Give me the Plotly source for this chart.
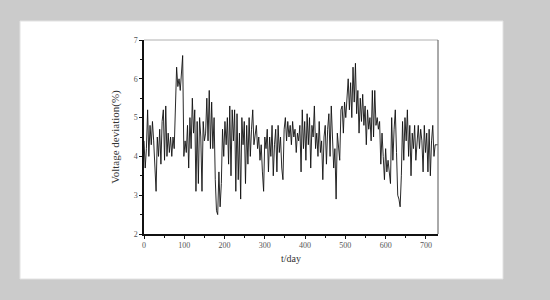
import plotly.graph_objects as go

days = list(range(0, 730, 3))
voltage = [
    4.4, 3.7, 4.2, 5.2, 4.0, 4.8, 4.3, 4.9, 4.4, 3.5,
    3.1, 4.5, 4.0, 4.7, 3.8, 4.9, 5.2, 3.9, 5.3, 4.0,
    4.6, 4.1, 4.5, 4.0, 4.5, 4.2, 5.3, 6.3, 5.8, 6.0,
    5.7, 6.1, 6.6, 4.0, 4.4, 4.1, 4.8, 3.7, 5.0, 4.2,
    5.5, 4.6, 5.2, 3.1, 4.9, 3.3, 5.0, 4.5, 3.1, 4.9,
    4.4, 4.6, 5.5, 4.4, 5.7, 4.2, 5.4, 4.2, 5.0, 3.4,
    2.6, 2.5, 3.6, 2.7, 3.3, 4.7, 4.0, 4.9, 4.3, 5.0,
    3.8, 5.3, 3.5, 5.2, 4.4, 5.2, 3.1, 5.1, 3.4, 4.6,
    2.9, 5.0, 4.3, 4.9, 3.3, 4.8, 3.8, 5.0, 4.0, 4.7,
    5.2, 4.3, 4.6, 4.8, 4.2, 4.5, 3.9, 4.3, 3.6, 3.1,
    4.5, 4.2, 4.7, 3.6, 4.5, 4.0, 4.8, 3.5, 4.3, 4.7,
    3.6, 4.8, 4.1, 4.5, 3.7, 3.4, 4.7, 5.0, 4.4, 4.9,
    4.5, 4.8, 4.3, 4.9, 4.5, 4.7, 4.1, 4.6, 4.4, 4.8,
    3.6, 5.2, 4.2, 4.9, 3.9, 5.1, 4.3, 5.0, 3.7, 4.8,
    4.5, 5.3, 4.2, 4.6, 4.0, 4.9, 4.1, 4.4, 3.4, 4.5,
    4.8, 3.8, 4.7, 5.1, 4.0, 5.3, 4.5, 3.7, 4.2, 2.9,
    4.6, 4.3, 3.9, 5.2, 5.3, 4.6, 5.4, 5.0, 5.5, 6.0,
    5.2, 5.9, 5.0, 6.3, 5.4, 6.4, 5.1, 5.7, 4.6, 5.5,
    4.9, 5.6, 4.8, 5.3, 4.3, 5.2, 4.7, 5.0, 4.4, 5.7,
    4.5, 5.7, 4.8, 5.0, 4.7, 4.9, 3.8, 4.6, 4.0, 3.4,
    4.2, 3.6, 3.9, 3.5, 3.3, 5.0, 3.9, 4.7, 5.2, 4.1,
    3.0, 2.9, 2.7, 3.5, 4.9, 3.9, 5.0, 4.4, 5.2, 4.0,
    4.8, 3.5, 4.6, 4.2, 4.8, 3.9, 4.5, 4.8, 4.2, 4.7,
    4.4, 3.6, 4.8, 4.1, 4.6, 3.6, 4.7, 3.5, 4.4, 4.8,
    4.0, 4.3, 4.3, 4.3,
]
x_ticks = [0, 100, 200, 300, 400, 500, 600, 700]
y_ticks = [2, 3, 4, 5, 6, 7]

font_family = "Liberation Serif"

fig = go.Figure()
fig.add_trace(go.Scatter(
    x=days, y=voltage, mode="lines",
    line=dict(color="#111111", width=0.9),
    showlegend=False, hoverinfo="skip",
))

L, R, T, B = 144, 112, 40, 66
W, H = 550 - L - R, 300 - T - B

def px_x(p):
    return (p - L) / W

def px_y(p):
    return (300 - B - p) / H

fig.add_shape(type="rect", xref="paper", yref="paper",
              x0=px_x(20), x1=px_x(503), y0=px_y(279), y1=px_y(21),
              fillcolor="white", line=dict(color="#e2e2e2", width=1), layer="below")
fig.add_shape(type="line", xref="paper", yref="paper",
              x0=0, x1=1, y0=1, y1=1, line=dict(color="#b0b0b0", width=1))
fig.add_shape(type="line", xref="paper", yref="paper",
              x0=1, x1=1, y0=0, y1=1, line=dict(color="#555555", width=1))

fig.update_layout(
    width=550, height=300,
    margin=dict(l=L, r=R, t=T, b=B),
    paper_bgcolor="#cbcbcb",
    plot_bgcolor="white",
    font=dict(family=font_family, color="#444444"),
    xaxis=dict(
        range=[0, 730], tickvals=x_ticks, showgrid=False, zeroline=False,
        showline=True, linecolor="#111111", linewidth=1.5,
        ticks="outside", ticklen=3, tickcolor="#111111", tickwidth=1,
        minor=dict(dtick=50, ticks="outside", ticklen=2, tickcolor="#111111"),
        tickfont=dict(size=8, color="#555555", family=font_family),
        title=dict(text="t/day", font=dict(size=10, color="#333333", family=font_family), standoff=6),
    ),
    yaxis=dict(
        range=[2, 7], tickvals=y_ticks, showgrid=False, zeroline=False,
        showline=True, linecolor="#111111", linewidth=1.5,
        ticks="outside", ticklen=3, tickcolor="#111111", tickwidth=1,
        minor=dict(dtick=0.5, ticks="outside", ticklen=2, tickcolor="#111111"),
        tickfont=dict(size=8, color="#555555", family=font_family),
        title=dict(text="Voltage deviation(%)", font=dict(size=11, color="#333333", family=font_family), standoff=12),
    ),
)

fig.write_html("out.html")
